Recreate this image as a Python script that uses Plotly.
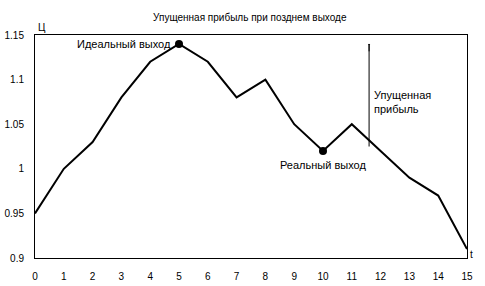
import plotly.graph_objects as go

t = list(range(16))
price = [0.95, 1.0, 1.03, 1.08, 1.12, 1.14, 1.12, 1.08, 1.10, 1.05, 1.02, 1.05, 1.02, 0.99, 0.97, 0.91]
ideal_idx = 5
real_idx = 10
x_ticks = list(range(16))
y_ticks = [0.9, 0.95, 1.0, 1.05, 1.1, 1.15]
y_tick_text = ["0.9", "0.95", "1", "1.05", "1.1", "1.15"]
lost_x = 11.6
lost_top = 1.14
lost_bottom = 1.025

FONT = "Liberation Sans, Arial, sans-serif"

fig = go.Figure()
fig.add_trace(go.Scatter(x=t, y=price, mode="lines",
                         line=dict(color="black", width=2), showlegend=False, hoverinfo="skip"))
fig.add_trace(go.Scatter(x=[t[ideal_idx], t[real_idx]], y=[price[ideal_idx], price[real_idx]],
                         mode="markers", marker=dict(color="black", size=8), showlegend=False))

fig.add_shape(type="line", x0=lost_x, x1=lost_x, y0=lost_bottom, y1=lost_top,
              line=dict(color="black", width=1))
fig.add_annotation(x=lost_x, y=lost_top, ax=lost_x, ay=lost_top - 0.01, axref="x", ayref="y",
                   showarrow=True, arrowhead=1, arrowsize=0.4, arrowwidth=1, arrowcolor="black", text="")

fig.add_annotation(x=t[ideal_idx] - 0.2, y=price[ideal_idx], text="Идеальный выход", showarrow=False,
                   xanchor="right", yanchor="middle", font=dict(family=FONT, size=11, color="black"))
fig.add_annotation(x=t[real_idx], y=price[real_idx] - 0.007, text="Реальный выход", showarrow=False,
                   xanchor="center", yanchor="top", font=dict(family=FONT, size=11, color="black"))
fig.add_annotation(x=lost_x + 0.1, y=1.075, text="Упущенная<br>прибыль", showarrow=False,
                   xanchor="left", yanchor="middle", align="left",
                   font=dict(family=FONT, size=11, color="black"))
fig.add_annotation(xref="paper", yref="paper", x=0, y=1, text="Ц", showarrow=False,
                   xanchor="left", yanchor="bottom", xshift=1,
                   font=dict(family=FONT, size=10, color="black"))
fig.add_annotation(xref="paper", yref="paper", x=1, y=0, text="t", showarrow=False,
                   xanchor="left", yanchor="bottom", xshift=1, yshift=-4,
                   font=dict(family=FONT, size=10, color="black"))

fig.update_layout(
    width=485, height=286,
    margin=dict(l=35, r=18, t=35, b=28, autoexpand=False),
    paper_bgcolor="white", plot_bgcolor="white",
    title=dict(text="Упущенная прибыль при позднем выходе", x=0.515, xanchor="center",
               y=0.94, yanchor="middle", font=dict(family=FONT, size=10, color="black")),
    font=dict(family=FONT, size=10, color="black"),
    xaxis=dict(range=[0, 15], tickvals=x_ticks, showgrid=False, zeroline=False,
               showline=True, linecolor="black", linewidth=1, mirror=True, ticks="",
               ticklabelstandoff=9, automargin=False, fixedrange=True),
    yaxis=dict(range=[0.9, 1.15], tickvals=y_ticks, ticktext=y_tick_text, showgrid=False,
               zeroline=False, showline=True, linecolor="black", linewidth=1, mirror=True,
               ticks="", ticklabelstandoff=8, automargin=False, fixedrange=True),
)

fig.write_html("out.html")
